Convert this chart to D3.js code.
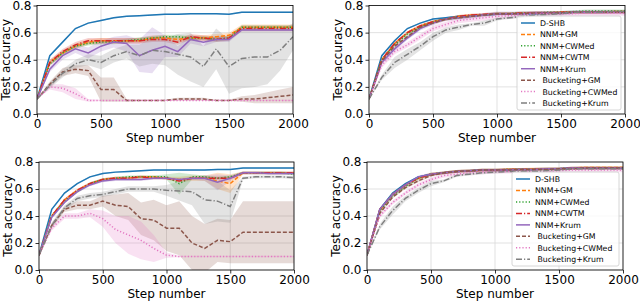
<!DOCTYPE html>
<html>
<head>
<meta charset="utf-8">
<script src="https://cdn.jsdelivr.net/npm/d3@7"></script>
<style>
body { margin: 0; background: #fff; }
text { font-family: "DejaVu Sans", sans-serif; }
</style>
</head>
<body>
<svg id="fig" width="640" height="302"></svg>
<script>
const steps = d3.range(0, 2001, 100);
const names = ['D-SHB', 'NNM+GM', 'NNM+CWMed', 'NNM+CWTM', 'NNM+Krum', ' Bucketing+GM', ' Bucketing+CWMed', ' Bucketing+Krum'];
const colors = ['#1f77b4', '#ff7f0e', '#2ca02c', '#d62728', '#9467bd', '#8c564b', '#e377c2', '#7f7f7f'];
const dashes = [null, '4,2', '1.2,2', '6,2,1.2,2', null, '4,2', '1.2,2', '6,2,1.2,2'];
const xTicks = [0, 500, 1000, 1500, 2000];
const yTicks = [0, 0.2, 0.4, 0.6, 0.8];

// top left
const accTopLeft = [
    [0.11,0.43,0.53,0.63,0.67,0.69,0.71,0.72,0.725,0.73,0.735,0.735,0.74,0.74,0.74,0.735,0.75,0.75,0.75,0.75,0.75],
    [0.11,0.38,0.45,0.50,0.53,0.54,0.54,0.54,0.54,0.56,0.56,0.55,0.56,0.56,0.57,0.58,0.64,0.64,0.64,0.64,0.64],
    [0.11,0.37,0.45,0.50,0.52,0.53,0.53,0.54,0.55,0.56,0.57,0.57,0.56,0.56,0.55,0.56,0.64,0.64,0.64,0.64,0.64],
    [0.11,0.38,0.46,0.51,0.54,0.54,0.54,0.54,0.54,0.55,0.55,0.53,0.57,0.56,0.55,0.56,0.63,0.63,0.63,0.63,0.63],
    [0.11,0.33,0.43,0.48,0.45,0.50,0.53,0.52,0.43,0.47,0.50,0.46,0.55,0.53,0.55,0.55,0.62,0.62,0.62,0.62,0.62],
    [0.11,0.22,0.31,0.33,0.32,0.18,0.18,0.10,0.10,0.10,0.10,0.11,0.11,0.11,0.10,0.10,0.11,0.11,0.12,0.13,0.14],
    [0.11,0.20,0.19,0.15,0.10,0.10,0.10,0.10,0.10,0.10,0.10,0.10,0.10,0.10,0.10,0.10,0.10,0.10,0.10,0.10,0.10],
    [0.11,0.21,0.30,0.37,0.40,0.38,0.43,0.46,0.43,0.47,0.46,0.44,0.42,0.35,0.48,0.35,0.41,0.42,0.42,0.47,0.57]
];
const spreadTopLeft = [
    0.005, 0.02, 0.015, 0.02,
    [0,0.02,0.03,0.03,0.04,0.04,0.04,0.06,0.12,0.17,0.08,0.04,0.03,0.03,0.02,0.02,0.01,0.01,0.01,0.01,0.01],
    [0,0.02,0.03,0.03,0.04,0.09,0.09,0.01,0.005,0.005,0.005,0.01,0.01,0.01,0.005,0.005,0.02,0.03,0.04,0.05,0.06],
    [0,0.02,0.03,0.04,0.01,0.005,0.005,0.005,0.005,0.005,0.005,0.005,0.005,0.005,0.005,0.005,0.005,0.005,0.005,0.005,0.005],
    [0,0.02,0.03,0.03,0.04,0.05,0.05,0.05,0.08,0.1,0.1,0.15,0.18,0.15,0.15,0.2,0.22,0.22,0.2,0.15,0.1]
];

// top right
const accTopRight = [
    [0.11,0.43,0.54,0.63,0.67,0.70,0.71,0.72,0.725,0.73,0.735,0.74,0.74,0.74,0.745,0.745,0.75,0.75,0.75,0.75,0.75],
    [0.11,0.40,0.52,0.60,0.65,0.68,0.70,0.72,0.73,0.73,0.74,0.74,0.74,0.745,0.745,0.75,0.75,0.75,0.75,0.755,0.755],
    [0.11,0.40,0.51,0.59,0.64,0.68,0.70,0.71,0.72,0.73,0.74,0.74,0.745,0.745,0.75,0.75,0.755,0.76,0.76,0.76,0.76],
    [0.11,0.40,0.52,0.60,0.65,0.68,0.70,0.72,0.73,0.735,0.74,0.74,0.745,0.745,0.745,0.75,0.75,0.75,0.75,0.75,0.75],
    [0.11,0.38,0.48,0.56,0.63,0.67,0.70,0.71,0.72,0.73,0.74,0.74,0.74,0.745,0.745,0.745,0.75,0.75,0.75,0.75,0.75],
    [0.11,0.39,0.50,0.57,0.64,0.67,0.70,0.71,0.72,0.73,0.74,0.74,0.74,0.745,0.745,0.745,0.75,0.75,0.75,0.75,0.75],
    [0.11,0.36,0.46,0.51,0.57,0.63,0.66,0.69,0.70,0.71,0.72,0.725,0.73,0.735,0.74,0.74,0.74,0.745,0.745,0.745,0.745],
    [0.11,0.27,0.38,0.44,0.50,0.57,0.62,0.64,0.66,0.67,0.70,0.71,0.72,0.73,0.735,0.74,0.75,0.75,0.75,0.755,0.755]
];
const spreadTopRight = [
    0.005, 0.01, 0.01, 0.01, 0.015, 0.01, 0.02,
    [0,0.02,0.04,0.04,0.03,0.03,0.02,0.02,0.01,0.02,0.01,0.01,0.01,0.01,0.01,0.01,0.01,0.01,0.01,0.01,0.01]
];

// bottom left
const accBottomLeft = [
    [0.11,0.45,0.57,0.64,0.69,0.715,0.725,0.73,0.735,0.74,0.74,0.74,0.74,0.74,0.745,0.745,0.755,0.755,0.755,0.755,0.755],
    [0.11,0.40,0.52,0.59,0.64,0.67,0.68,0.68,0.69,0.69,0.68,0.67,0.68,0.68,0.66,0.64,0.72,0.72,0.72,0.72,0.72],
    [0.11,0.40,0.51,0.58,0.64,0.67,0.68,0.69,0.69,0.69,0.69,0.64,0.69,0.69,0.68,0.69,0.72,0.72,0.72,0.72,0.71],
    [0.11,0.40,0.52,0.59,0.64,0.67,0.68,0.68,0.69,0.68,0.68,0.66,0.68,0.68,0.68,0.68,0.72,0.72,0.72,0.72,0.72],
    [0.11,0.39,0.50,0.58,0.63,0.66,0.67,0.67,0.67,0.68,0.68,0.67,0.68,0.68,0.65,0.68,0.72,0.72,0.715,0.715,0.715],
    [0.11,0.33,0.45,0.48,0.48,0.51,0.48,0.47,0.38,0.37,0.31,0.31,0.20,0.16,0.22,0.21,0.28,0.28,0.28,0.28,0.28],
    [0.11,0.31,0.40,0.40,0.42,0.38,0.30,0.26,0.22,0.16,0.11,0.10,0.10,0.10,0.10,0.10,0.10,0.10,0.10,0.10,0.10],
    [0.11,0.33,0.46,0.53,0.55,0.56,0.58,0.60,0.60,0.60,0.59,0.585,0.58,0.52,0.51,0.47,0.68,0.69,0.69,0.69,0.685]
];
const spreadBottomLeft = [
    0.005,
    [0,0.01,0.01,0.01,0.01,0.01,0.01,0.01,0.01,0.01,0.01,0.02,0.02,0.02,0.06,0.07,0.01,0.01,0.01,0.01,0.01],
    [0,0.01,0.01,0.01,0.01,0.01,0.01,0.01,0.01,0.01,0.02,0.08,0.02,0.01,0.01,0.01,0.01,0.01,0.01,0.01,0.01],
    0.01,
    [0,0.01,0.01,0.01,0.01,0.01,0.01,0.01,0.01,0.01,0.01,0.01,0.01,0.02,0.06,0.02,0.01,0.01,0.01,0.01,0.01],
    [0,0.02,0.02,0.03,0.03,0.04,0.08,0.1,0.12,0.15,0.17,0.2,0.2,0.18,0.16,0.16,0.23,0.23,0.23,0.23,0.23],
    [0,0.02,0.02,0.02,0.03,0.06,0.1,0.14,0.14,0.1,0.02,0.005,0.005,0.005,0.005,0.005,0.005,0.005,0.005,0.005,0.005],
    [0,0.02,0.02,0.02,0.02,0.02,0.02,0.02,0.02,0.02,0.04,0.07,0.1,0.18,0.15,0.12,0.01,0.01,0.01,0.01,0.01]
];

// bottom right
const accBottomRight = [
    [0.11,0.45,0.57,0.64,0.69,0.71,0.72,0.73,0.735,0.74,0.74,0.74,0.745,0.745,0.75,0.75,0.755,0.755,0.755,0.755,0.755],
    [0.11,0.44,0.56,0.63,0.68,0.71,0.72,0.73,0.735,0.74,0.74,0.745,0.745,0.75,0.75,0.75,0.755,0.76,0.76,0.76,0.76],
    [0.11,0.44,0.55,0.62,0.68,0.71,0.72,0.73,0.735,0.74,0.74,0.745,0.745,0.745,0.75,0.75,0.755,0.755,0.755,0.755,0.755],
    [0.11,0.45,0.56,0.63,0.68,0.71,0.72,0.73,0.735,0.74,0.74,0.745,0.745,0.745,0.75,0.75,0.755,0.755,0.755,0.755,0.755],
    [0.11,0.45,0.56,0.63,0.69,0.71,0.72,0.73,0.735,0.74,0.74,0.74,0.745,0.745,0.75,0.75,0.755,0.755,0.755,0.755,0.755],
    [0.11,0.42,0.54,0.61,0.66,0.70,0.72,0.73,0.735,0.74,0.74,0.74,0.745,0.745,0.745,0.75,0.75,0.755,0.755,0.755,0.755],
    [0.11,0.40,0.50,0.57,0.63,0.67,0.70,0.71,0.72,0.725,0.73,0.73,0.73,0.73,0.73,0.735,0.74,0.74,0.74,0.74,0.74],
    [0.11,0.32,0.44,0.53,0.59,0.64,0.66,0.70,0.71,0.72,0.725,0.73,0.73,0.73,0.735,0.74,0.75,0.75,0.75,0.75,0.75]
];
const spreadBottomRight = [
    0.005, 0.01, 0.01, 0.01, 0.01, 0.01, 0.015,
    [0,0.02,0.03,0.02,0.02,0.02,0.01,0.01,0.01,0.01,0.01,0.01,0.01,0.01,0.01,0.01,0.01,0.01,0.01,0.01,0.01]
];

var svg = d3.select('#fig');

function draw_panel({id, left, right, top, bottom, acc, spread, legend}) {
    var x = d3.scaleLinear().domain([0, 2000]).range([left, right]);
    var y = d3.scaleLinear().domain([0, 0.8]).range([bottom, top]);
    var g = svg.append('g');

    g.append('clipPath').attr('id', 'clip' + id)
        .append('rect')
        .attr('x', left).attr('y', top)
        .attr('width', right - left).attr('height', bottom - top);

    //grid
    g.selectAll('.gx').data(xTicks).enter().append('line')
        .attr('x1', d => x(d)).attr('x2', d => x(d))
        .attr('y1', top).attr('y2', bottom)
        .style('stroke', '#d9d9d9').style('stroke-width', 0.8);
    g.selectAll('.gy').data(yTicks).enter().append('line')
        .attr('x1', left).attr('x2', right)
        .attr('y1', d => y(d)).attr('y2', d => y(d))
        .style('stroke', '#d9d9d9').style('stroke-width', 0.8);

    var plot = g.append('g').attr('clip-path', 'url(#clip' + id + ')');

    //shaded bands
    acc.forEach(function(vals, i) {
        var sp = spread[i];
        var hw = j => (typeof sp === 'number') ? (j == 0 ? 0 : sp) : sp[j];
        var area = d3.area()
            .x((d, j) => x(steps[j]))
            .y0((d, j) => y(d - hw(j)))
            .y1((d, j) => y(d + hw(j)));
        plot.append('path')
            .attr('d', area(vals))
            .style('fill', colors[i])
            .style('fill-opacity', 0.22)
            .style('stroke', 'none');
    });

    //lines
    acc.forEach(function(vals, i) {
        var line = d3.line().x((d, j) => x(steps[j])).y(d => y(d));
        plot.append('path')
            .attr('d', line(vals))
            .style('fill', 'none')
            .style('stroke', colors[i])
            .style('stroke-width', 1.5)
            .style('stroke-dasharray', dashes[i]);
    });

    //axes
    var xa = g.append('g').attr('transform', 'translate(0,' + bottom + ')')
        .call(d3.axisBottom(x).tickValues(xTicks).tickSize(3.5).tickPadding(2).tickFormat(d => d));
    var ya = g.append('g').attr('transform', 'translate(' + left + ',0)')
        .call(d3.axisLeft(y).tickValues(yTicks).tickSize(3.5).tickPadding(2).tickFormat(d3.format('.1f')));
    [xa, ya].forEach(function(a) {
        a.select('.domain').remove();
        a.selectAll('line').style('stroke', '#000').style('stroke-width', 0.8);
        a.selectAll('text').style('font-size', '12px').style('fill', '#000')
            .style('font-family', '"DejaVu Sans", sans-serif');
    });

    //frame
    g.append('rect')
        .attr('x', left).attr('y', top)
        .attr('width', right - left).attr('height', bottom - top)
        .style('fill', 'none').style('stroke', '#000').style('stroke-width', 0.8);

    //axis labels
    g.append('text')
        .attr('x', (left + right) / 2).attr('y', bottom + 28)
        .style('text-anchor', 'middle').style('font-size', '12px')
        .text('Step number');
    g.append('text')
        .attr('transform', 'translate(' + (left - 27) + ',' + ((top + bottom) / 2) + ') rotate(-90)')
        .style('text-anchor', 'middle').style('font-size', '12px')
        .text('Test accuracy');

    if (legend) {
        var lg = g.append('g').attr('transform', 'translate(' + legend.x + ',' + legend.y + ')');
        lg.append('rect')
            .attr('x', 0).attr('y', 0).attr('rx', 2).attr('ry', 2)
            .attr('width', legend.w).attr('height', legend.h)
            .style('fill', '#fff').style('fill-opacity', 0.8)
            .style('stroke', '#cccccc').style('stroke-width', 0.8);
        var items = lg.selectAll('.item').data(names).enter().append('g')
            .attr('transform', (d, i) => 'translate(0,' + (7 + i * legend.dy) + ')');
        items.append('line')
            .attr('x1', 4).attr('x2', 18).attr('y1', 0).attr('y2', 0)
            .style('stroke', (d, i) => colors[i])
            .style('stroke-width', 1.5)
            .style('stroke-dasharray', (d, i) => dashes[i]);
        items.append('text')
            .attr('x', 23).attr('y', 3)
            .style('font-size', '7.8px')
            .style('white-space', 'pre')
            .text(d => d);
    }
}

draw_panel({id: 1, left: 37, right: 293, top: 5.5, bottom: 114, acc: accTopLeft, spread: spreadTopLeft});
draw_panel({id: 2, left: 369, right: 625, top: 5.5, bottom: 114, acc: accTopRight, spread: spreadTopRight,
    legend: {x: 517, y: 16, w: 104, h: 94, dy: 11.43}});
draw_panel({id: 3, left: 39, right: 294, top: 162, bottom: 270, acc: accBottomLeft, spread: spreadBottomLeft});
draw_panel({id: 4, left: 367, right: 623, top: 162, bottom: 270, acc: accBottomRight, spread: spreadBottomRight,
    legend: {x: 512, y: 172, w: 107, h: 94, dy: 11.47}});
</script>
</body>
</html>
